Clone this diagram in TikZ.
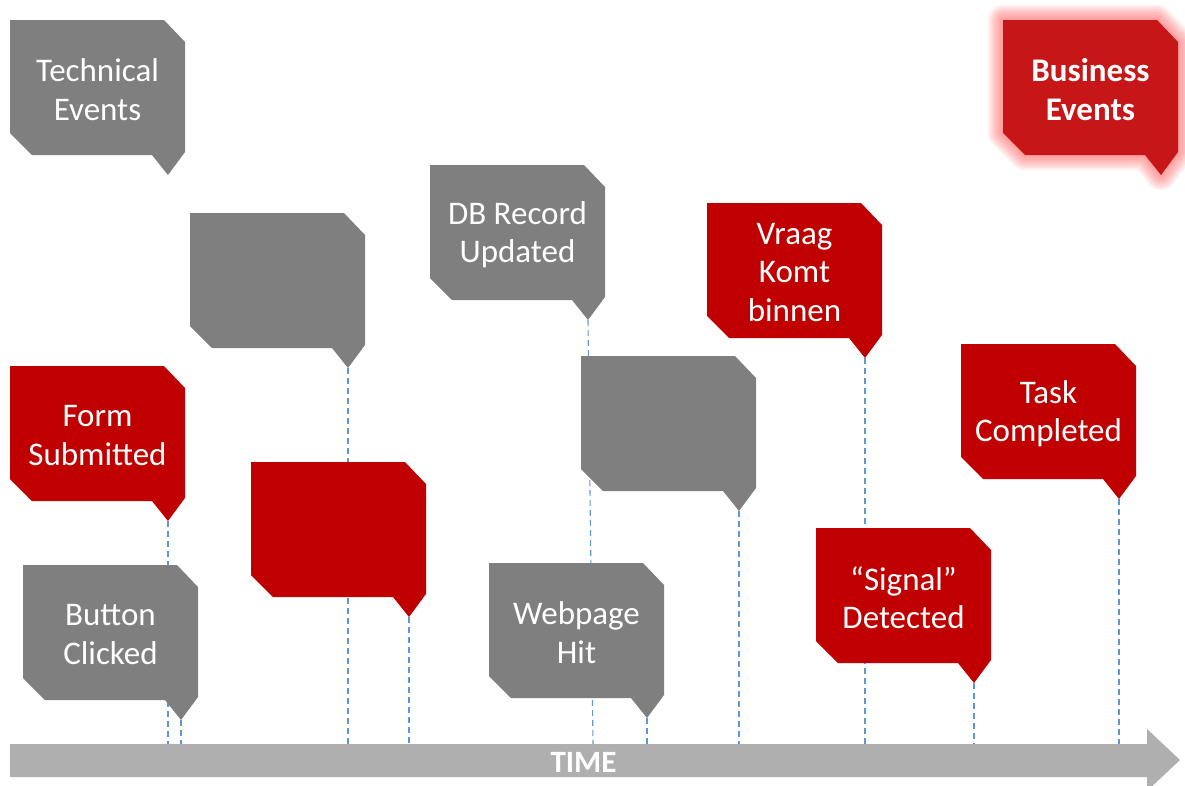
\documentclass[tikz,border=0pt]{standalone}
\usepackage{fontspec}
\setmainfont{Carlito}
\pgfdeclarelayer{background}
\pgfsetlayers{background,main}

\definecolor{evgray}{RGB}{127,127,127}
\definecolor{evred}{RGB}{192,0,0}
\definecolor{bizred}{RGB}{198,22,24}
\definecolor{glowred}{RGB}{255,70,70}
\definecolor{axisgray}{RGB}{175,175,175}
\definecolor{tickblue}{RGB}{95,150,212}

% outline of a speech-bubble event box, top-left corner at (#1,#2)
\def\calloutpath#1#2{(#1,#2) -- ++(154,0) -- ++(21,22) -- ++(0,110) -- ++(-17,23)
  -- ++(-16,-20) -- ++(-120,0) -- ++(-22,-22) -- cycle}

% \eventbox{name}{x}{y}{fill style}{text}
\newcommand\eventbox[5]{%
  \fill[#4] \calloutpath{#2}{#3};
  \node[evtext] (#1) at (#2+87.5,#3+69.5) {#5};
  \coordinate (#1tip) at (#2+158,#3+155);
}

\tikzset{
  evtext/.style={text=white, align=center, inner sep=0pt,
    font=\fontsize{33}{38.5}\selectfont},
  grayfill/.style={fill=evgray},
  redfill/.style={fill=evred},
  tick/.style={draw=tickblue, line width=1.1pt, dash pattern=on 6pt off 4pt},
  axisbar/.style={fill=axisgray},
}

\begin{document}
\begin{tikzpicture}[x=1pt,y=-1pt]
\useasboundingbox (0,0) rectangle (1185,785);
\clip (0,0) rectangle (1185,785);

% legend boxes
\eventbox{tech}{10}{20}{grayfill}{Technical\\Events}
\begin{pgfonlayer}{background}
  \foreach \w in {30,26,...,2}
    \draw[glowred, line width=\w pt, line join=round, opacity=0.09] \calloutpath{1003}{20};
\end{pgfonlayer}
\eventbox{biz}{1003}{20}{fill=bizred}{\bfseries Business\\\bfseries Events}

% events on the time line
\eventbox{emptyA}{190}{213}{grayfill}{}
\eventbox{db}{430}{165}{grayfill}{DB Record\\Updated}
\eventbox{vraag}{707}{203}{redfill}{Vraag\\Komt\\binnen}
\eventbox{form}{10}{366}{redfill}{Form\\Submitted}
\eventbox{emptyB}{251}{462}{redfill}{}
\eventbox{emptyC}{581}{356}{grayfill}{}
\eventbox{task}{961}{344}{redfill}{Task\\Completed}
\eventbox{button}{23}{565}{grayfill}{Button\\Clicked}
\eventbox{web}{489}{563}{grayfill}{Webpage\\Hit}
\eventbox{signal}{816}{528}{redfill}{“Signal”\\Detected}

% time axis
\coordinate (axis) at (0,746);
\coordinate (dbfoot) at (593,746);
\fill[axisbar] (10,744) -- (1147,744) -- (1147,729) -- (1180,760) -- (1147,791)
  -- (1147,777) -- (10,777) -- cycle;
\node[text=black!30, font=\fontsize{31}{31}\bfseries, inner sep=0pt] at (584.5,763) {TIME};
\node[text=white, font=\fontsize{31}{31}\bfseries, inner sep=0pt] (time) at (583.5,762) {TIME};

% dashed drop lines from each event to the axis
\begin{pgfonlayer}{background}
  \foreach \e in {emptyA,vraag,form,emptyB,emptyC,task,button,web,signal}
    \draw[tick] (\e tip) -- (\e tip |- axis);
  \draw[tick] (dbtip) -- (dbfoot);
\end{pgfonlayer}
\end{tikzpicture}
\end{document}
